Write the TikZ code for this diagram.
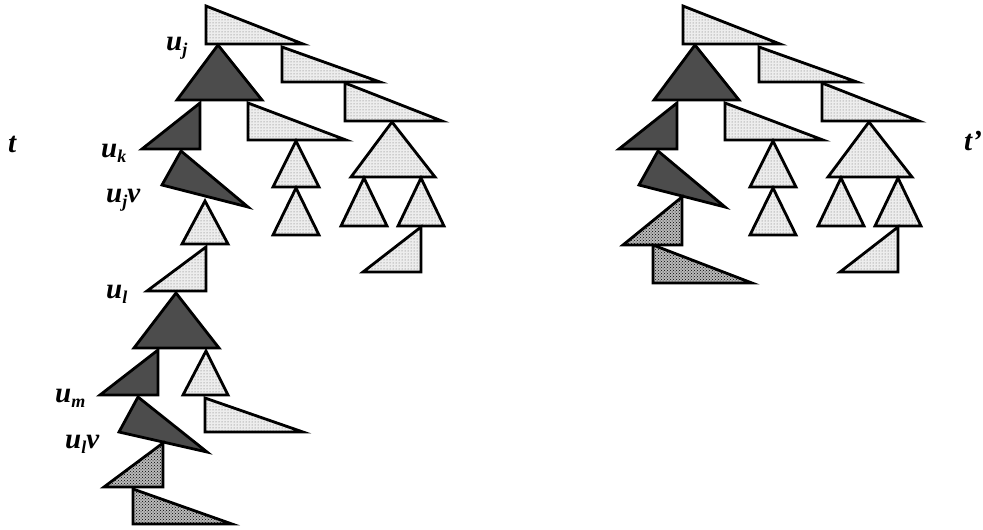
\documentclass[tikz,border=0pt]{standalone}
\usepackage{fontspec}
\setmainfont{Liberation Serif}
\usetikzlibrary{patterns}
\newcommand\lsub[1]{\raisebox{-5pt}{\fontsize{18}{18}\selectfont #1}}
\begin{document}
\begin{tikzpicture}[x=1pt,y=-1pt,
  tri/.style={draw=black,line width=2.8pt,line join=miter},
  light/.style={tri,preaction={fill=gray!14},pattern=dots,pattern color=black!60},
  dark/.style={tri,fill=black!70},
  hatch/.style={tri,preaction={fill=gray!55},pattern=crosshatch dots,pattern color=black},
  lab/.style={font=\fontsize{29}{31}\selectfont\bfseries\itshape,anchor=base west,inner sep=0pt}]
\useasboundingbox (0,0) rectangle (983,530);
% common upper part of t and t'
\foreach \dx in {0,477}{
\begin{scope}[xshift=\dx pt]
  \draw[light] (206,6)--(206,44)--(303,44)--cycle;
  \draw[light] (282,47)--(282,82)--(380,82)--cycle;
  \draw[light] (345,83)--(345,121)--(442,121)--cycle;
  \draw[dark]  (218,45)--(262,100)--(177,100)--cycle;
  \draw[light] (248,103)--(248,140)--(346,140)--cycle;
  \draw[dark]  (200,103)--(200,149)--(142,149)--cycle;
  \draw[dark]  (181,151)--(248,207)--(162,185)--cycle;
  \draw[light] (296,141)--(319,187)--(273,187)--cycle;
  \draw[light] (296,188)--(319,235)--(273,235)--cycle;
  \draw[light] (392,122)--(435,177)--(351,177)--cycle;
  \draw[light] (364,178)--(387,226)--(341,226)--cycle;
  \draw[light] (421,178)--(444,226)--(398,226)--cycle;
  \draw[light] (421,227)--(421,272)--(363,272)--cycle;
\end{scope}}
% lower part of t
\draw[light] (205,201)--(228,244)--(182,244)--cycle;
\draw[light] (206,247)--(206,291)--(147,291)--cycle;
\draw[dark]  (176,293)--(219,348)--(134,348)--cycle;
\draw[dark]  (158,350)--(158,395)--(100,395)--cycle;
\draw[light] (206,351)--(228,395)--(183,395)--cycle;
\draw[light] (205,398)--(205,432)--(303,432)--cycle;
\draw[dark]  (138,397)--(207,452)--(119,432)--cycle;
\draw[hatch] (163,443)--(163,487)--(104,487)--cycle;
\draw[hatch] (133,489)--(133,524)--(232,524)--cycle;
% lower part of t'
\draw[hatch] (682,197)--(682,245)--(623,245)--cycle;
\draw[hatch] (653,245)--(653,283)--(752,283)--cycle;
% labels
\node[lab] (luj)  at (166,50)  {u\lsub{j}};
\node[lab] (luk)  at (101,157) {u\lsub{k}};
\node[lab] (lujv) at (106,202) {u\lsub{j}v};
\node[lab] (lul)  at (106,298) {u\lsub{l}};
\node[lab] (lum)  at (55,402)  {u\lsub{m}};
\node[lab] (lulv) at (65,448)  {u\lsub{l}v};
\node[lab] (lt)   at (8,152)   {t};
\node[lab] (ltp)  at (964,150) {t'};
\end{tikzpicture}
\end{document}
